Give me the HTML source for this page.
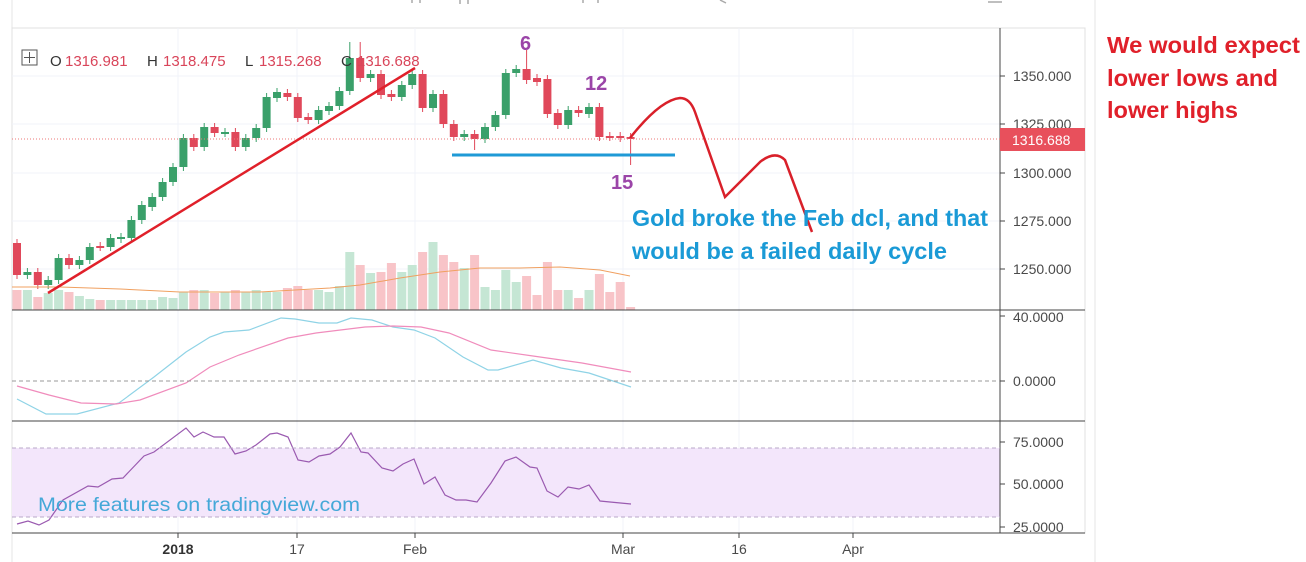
<!DOCTYPE html>
<html><head><meta charset="utf-8"><style>
html,body{margin:0;padding:0;background:#fff;width:1306px;height:562px;overflow:hidden}
svg{display:block}
.ax{font-family:"Liberation Sans",sans-serif;font-size:14px;fill:#4a4a4a}
</style></head><body>
<svg id="s" width="1306" height="562" xmlns="http://www.w3.org/2000/svg">
<rect width="1306" height="562" fill="#fff"/>
<line x1="1095" y1="0" x2="1095" y2="562" stroke="#e4e4e4"/>
<line x1="12" y1="0" x2="12" y2="562" stroke="#e4e4e4"/>
<rect x="12" y="28" width="1073" height="505" fill="none" stroke="#e0e0e0"/>
<g stroke="#aaa" stroke-width="1.5" fill="none"><path d="M412 0v3M420 0v3M460 0v4M468 0v4M583 0v3M598 0v3M720 0l6 3M988 2h14"/></g>
<g id="grid" stroke="#f0f3fa"></g>
<rect x="12" y="448" width="988" height="69" fill="#f3e6fb"/>
<g id="vol"></g>
<g id="cd"></g>
<g id="lines"></g>
<line x1="12" y1="310" x2="1085" y2="310" stroke="#444"/>
<line x1="12" y1="421" x2="1085" y2="421" stroke="#444"/>
<line x1="12" y1="533" x2="1085" y2="533" stroke="#444"/>
<line x1="1000" y1="28" x2="1000" y2="533" stroke="#444"/>
<line x1="12" y1="139" x2="1000" y2="139" stroke="#e77" stroke-dasharray="1,2"/>
<line x1="12" y1="381" x2="1000" y2="381" stroke="#999" stroke-dasharray="4,3"/>
<line x1="12" y1="448" x2="1000" y2="448" stroke="#b9a8c8" stroke-dasharray="4,3"/>
<line x1="12" y1="517" x2="1000" y2="517" stroke="#b9a8c8" stroke-dasharray="4,3"/>
<g class="ax">
<text x="1013" y="81">1350.000</text><text x="1013" y="129">1325.000</text>
<text x="1013" y="178">1300.000</text><text x="1013" y="226">1275.000</text><text x="1013" y="274">1250.000</text>
<text x="1013" y="322">40.0000</text><text x="1013" y="386">0.0000</text>
<text x="1013" y="447">75.0000</text><text x="1013" y="489">50.0000</text><text x="1013" y="532">25.0000</text>
</g>
<g stroke="#444"><path d="M1000 76h5M1000 124h5M1000 173h5M1000 221h5M1000 269h5M1000 316h5M1000 381h5M1000 442h5M1000 484h5M1000 527h5M178 533v5M297 533v5M415 533v5M623 533v5M739 533v5M853 533v5"/></g>
<rect x="1000" y="128" width="85" height="23" fill="#e8505c"/>
<text x="1012" y="145" font-family="Liberation Sans,sans-serif" font-size="14" fill="#fff">1316.688</text>
<g class="ax" text-anchor="middle">
<text x="178" y="554" font-weight="bold" fill="#333">2018</text><text x="297" y="554">17</text><text x="415" y="554">Feb</text>
<text x="623" y="554">Mar</text><text x="739" y="554">16</text><text x="853" y="554">Apr</text>
</g>
<rect x="22" y="50" width="15" height="15" fill="#fff" stroke="#555"/>
<path d="M29.5 52v11M24 57.5h11" stroke="#555"/>
<text y="66" font-family="Liberation Sans,sans-serif" font-size="15"><tspan x="50" fill="#333">O</tspan><tspan x="65" fill="#d9455a">1316.981</tspan><tspan x="147" fill="#333">H</tspan><tspan x="163" fill="#d9455a">1318.475</tspan><tspan x="245" fill="#333">L</tspan><tspan x="259" fill="#d9455a">1315.268</tspan><tspan x="341" fill="#333">C</tspan><tspan x="357" fill="#d9455a">1316.688</tspan></text>
<text x="38" y="511" font-family="Liberation Sans,sans-serif" font-size="19" fill="#45a8d8" textLength="322" lengthAdjust="spacingAndGlyphs">More features on tradingview.com</text>
<line x1="48" y1="293" x2="415" y2="68" stroke="#e0202a" stroke-width="2.5"/>
<line x1="452" y1="155" x2="675" y2="155" stroke="#1f9ad6" stroke-width="3"/>
<path d="M630 138 Q660 100 680 98 Q690 98 695 112 L725 197 L760 162 Q775 150 785 160 L812 232" fill="none" stroke="#d9202a" stroke-width="2.5"/>
<g font-family="Liberation Sans,sans-serif" font-weight="bold" font-size="20" fill="#9b45a8">
<text x="520" y="50">6</text><text x="585" y="90">12</text><text x="611" y="189">15</text></g>
<g font-family="Liberation Sans,sans-serif" font-weight="bold" font-size="23" fill="#1a9ad6">
<text x="632" y="226" textLength="356" lengthAdjust="spacingAndGlyphs">Gold broke the Feb dcl, and that</text>
<text x="632" y="259" textLength="315" lengthAdjust="spacingAndGlyphs">would be a failed daily cycle</text></g>
<g font-family="Liberation Sans,sans-serif" font-weight="bold" font-size="23" fill="#e0202a">
<text x="1107" y="53" textLength="193" lengthAdjust="spacingAndGlyphs">We would expect</text>
<text x="1107" y="86" textLength="171" lengthAdjust="spacingAndGlyphs">lower lows and</text>
<text x="1107" y="118" textLength="131" lengthAdjust="spacingAndGlyphs">lower highs</text></g>
</svg>
<script>
var NS="http://www.w3.org/2000/svg";
function el(p,t,a){var e=document.createElementNS(NS,t);for(var k in a)e.setAttribute(k,a[k]);document.getElementById(p).appendChild(e);return e;}
[76,124,173,221,269].forEach(function(y){el("grid","line",{x1:12,x2:1000,y1:y,y2:y});});
[178,297,415,623,739,853].forEach(function(x){el("grid","line",{x1:x,x2:x,y1:28,y2:533});});
var C=[[243,275],[275,272],[272,285],[285,280],[280,258],[258,265],[265,260],[260,247],[246,247],[247,238],[239,237],[238,220],[220,205],[207,197],[197,182],[182,167],[167,138],[138,147],[147,127],[127,133],[133,132],[132,147],[147,138],[138,128],[128,97],[98,92],[93,97],[97,118],[117,120],[120,110],[111,106],[106,91],[91,58],[58,78],[78,74],[74,95],[94,97],[97,85],[85,74],[74,108],[108,94],[94,124],[124,137],[137,134],[134,139],[139,127],[127,115],[115,73],[73,69],[69,80],[78,82],[79,114],[113,125],[125,110],[110,113],[114,107],[107,137],[136,137],[136,138],[137,139]];
var V=[290,290,297,293,290,292,296,299,300,300,300,300,300,300,297,298,292,290,290,293,292,290,292,290,292,292,288,286,290,290,292,286,252,265,273,272,263,272,265,252,242,255,262,268,255,287,290,270,282,276,295,262,290,290,298,290,274,292,282,307];
var MA=[[12,287],[60,287],[120,289],[180,292],[260,292],[330,288],[360,285],[400,278],[440,272],[480,268],[520,268],[560,267],[600,270],[630,276]];
for(var i=0;i<60;i++){var x=17+i*10.4,o=C[i][0],c=C[i][1],up=c<o;
 el("vol","rect",{x:x-4.5,y:V[i],width:9,height:310-V[i],fill:up?"#c5e6d4":"#f8c4c8"});
 var bt=Math.min(o,c),bb=Math.max(o,c),col=up?"#3aa06a":"#e0485a";
 var hi=bt-4,lo=bb+4;if(i==32||i==33)hi=42;if(i==49)hi=50;if(i==59)lo=165;if(i==44)lo=150;
 el("cd","line",{x1:x,x2:x,y1:hi,y2:lo,stroke:col,"stroke-width":1});
 el("cd","rect",{x:x-4,y:bt,width:8,height:Math.max(bb-bt,2),fill:col});}
function pl(pts,col,w){el("lines","polyline",{points:pts.map(function(p){return p.join(",")}).join(" "),fill:"none",stroke:col,"stroke-width":w||1.2});}
pl(MA,"#f0a060",1);
pl([[17,399],[46,414],[77,414],[119,403],[154,377],[186,352],[210,337],[224,332],[249,330],[281,318],[295,319],[319,323],[337,323],[351,318],[372,320],[393,327],[414,330],[435,338],[463,357],[488,370],[498,370],[533,360],[561,368],[589,373],[610,380],[631,387]],"#8fd3e6");
pl([[17,386],[49,395],[81,403],[116,404],[140,400],[186,383],[210,367],[239,355],[288,338],[316,333],[365,327],[393,326],[421,327],[449,333],[491,350],[533,356],[582,363],[631,372]],"#f08cbc");
pl([[17,524],[28,521],[39,525],[49,520],[63,500],[88,486],[98,487],[112,479],[123,478],[144,456],[154,452],[186,428],[194,437],[203,432],[214,437],[224,437],[235,454],[246,451],[256,445],[270,434],[277,433],[288,437],[298,460],[309,462],[319,456],[330,454],[340,447],[351,433],[361,452],[368,453],[382,468],[393,471],[403,464],[414,459],[424,484],[435,477],[445,495],[456,500],[466,500],[477,502],[491,483],[505,461],[516,457],[530,467],[537,468],[547,491],[558,497],[568,487],[579,489],[589,485],[600,501],[610,502],[631,504]],"#9a5ab0");
</script>
</body></html>
